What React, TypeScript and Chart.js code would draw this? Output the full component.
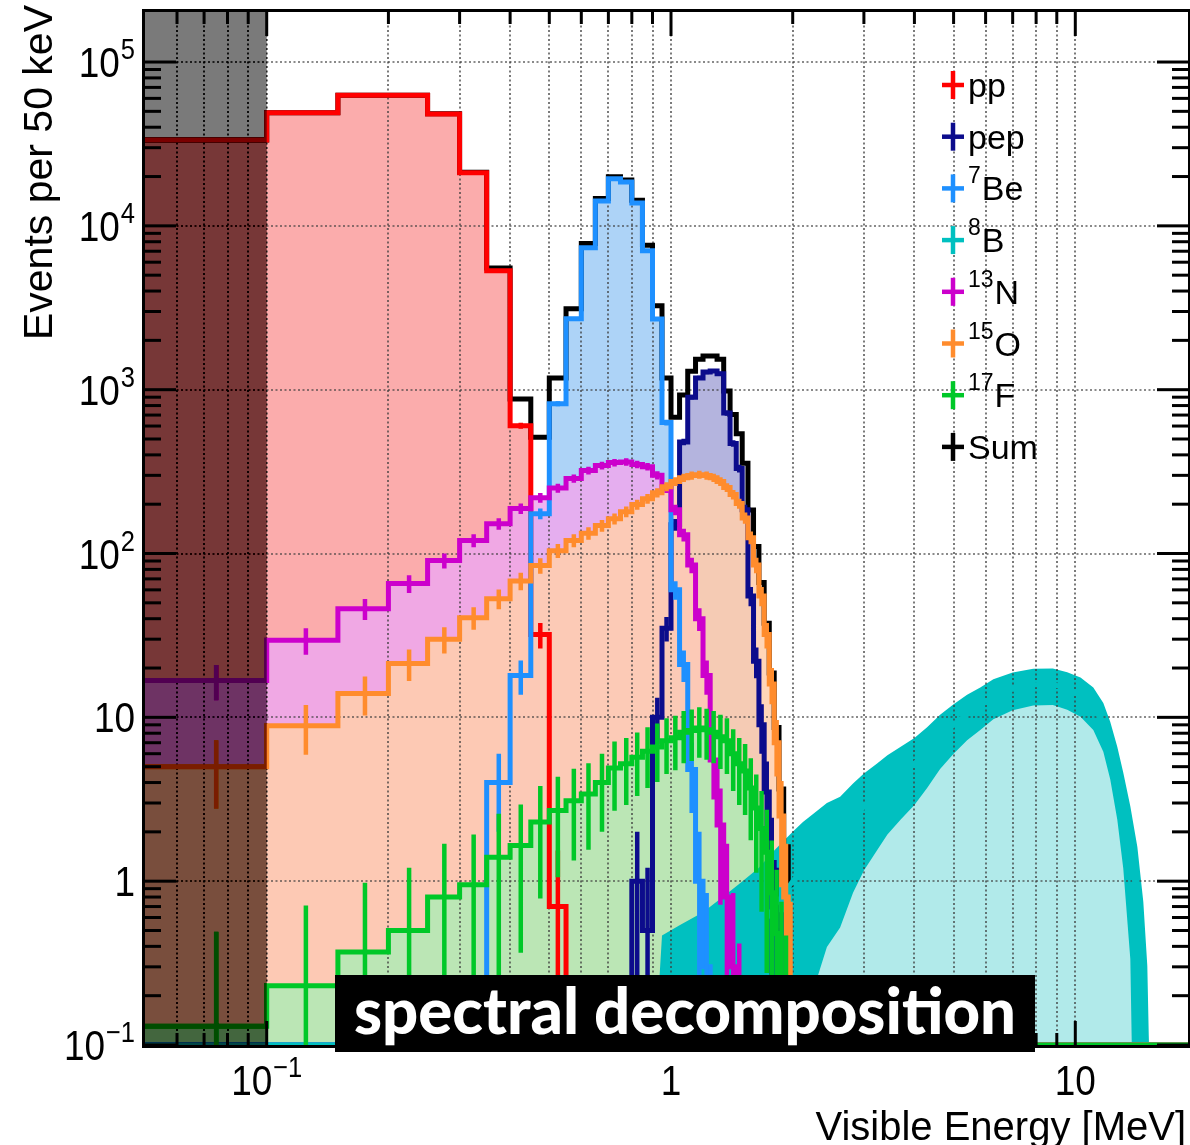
import React, { useEffect, useRef } from "react";
import { Chart, registerables } from "chart.js";

Chart.register(...registerables);

// ---------------- axis ranges ----------------
const BIN_WIDTH = 0.05; // MeV (50 keV bins)
const E_MIN = 0.05;
const E_MAX = 19;
const Y_MIN = 0.1;
const Y_MAX = 2.02e5;

// ---------------- data: events per 50 keV, bin i = [0.05+0.05i, 0.10+0.05i] MeV ----------------
const ppCounts = [33400, 49000, 62700, 62700, 48200, 21100, 5320, 603, 32, 0.7];
const pepCounts = [
  0, 0, 0, 0, 0, 0, 0, 0, 0, 0, 0, 0, 0, 0, 0,
  1.0, 0.5, 10, 35, 150, 480, 900, 1180, 1280, 1300, 1250, 720, 470, 330, 185,
  55, 22, 9, 3.5, 1.3, 0.5, 0.2,
];
const be7Counts = [
  0, 0, 0, 0, 0, 0, 4, 18, 175, 822, 2710, 7340, 14200, 19400, 18500, 13800,
  7040, 2700, 630, 60, 21, 4.8, 1.0, 0.3,
];
const n13Counts = [
  16.8, 29.5, 46, 65.6, 90.6, 120, 152, 188, 219, 251, 287, 321, 344, 359, 362,
  350, 339, 300, 250, 185, 130, 85, 40, 18, 5.5, 2.2, 0.8, 0.3, 0.1,
];
const o15Counts = [
  5.0, 8.9, 14, 21.3, 30, 40.6, 53, 68, 84.5, 104, 120, 133, 148, 163, 180, 199,
  216, 235, 256, 275, 290, 299, 303, 299, 290, 275, 253, 229, 202, 165, 125, 85,
  55, 32, 16, 7, 2.5, 0.8, 0.25,
];
const f17Counts = [
  0.13, 0.23, 0.37, 0.5, 0.8, 0.95, 1.4, 1.65, 2.3, 2.7, 3.1, 3.4, 4.0, 4.9, 5.2,
  5.7, 6.2, 6.6, 7.2, 7.5, 8.1, 8.3, 8.6, 8.4, 8.1, 7.6, 7.2, 6.0, 5.2, 4.7, 3.7,
  2.8, 2.1, 1.5, 0.85, 0.48, 0.25, 0.12,
];
// 8B: sampled spectrum (energy in MeV, events per 50 keV)
const b8Energy = [
  0.05, 0.9, 0.95, 1.05, 1.2, 1.35, 1.5, 1.65, 1.8, 2.0, 2.12, 2.25, 2.43, 2.62,
  2.82, 3.0, 3.24, 3.43, 3.7, 4.0, 4.3, 4.63, 5.0, 5.4, 5.82, 6.27, 7.0, 7.87,
  8.8, 9.55, 10.3, 11.08, 11.73, 12.2, 12.7, 13.14, 13.68, 14.24, 14.73, 15.07,
  15.3, 19,
];
const b8Counts = [
  0, 0, 0.12, 0.15, 0.2, 0.28, 0.38, 0.5, 0.7, 1.0, 1.2, 1.4, 1.7, 1.9, 2.4,
  2.85, 3.4, 3.9, 4.5, 5.2, 6.2, 7.6, 9.0, 10.5, 11.8, 13.4, 14.9, 15.8, 15.9,
  15.0, 13.8, 11.8, 9.2, 6.8, 4.5, 2.9, 1.6, 0.75, 0.25, 0.06, 0, 0,
];
// shaded first bin (below threshold), MeV
const shadedRange = [0.05, 0.1];
const SUM_LAST_BIN = 38; // Sum drawn as histogram up to 2.0 MeV (8B dominated beyond)

// ---------------- ticks / labels ----------------
const xMajorTicks = [0.1, 1, 10];
const xTickLabels: [string, string][] = [["10", "\u22121"], ["1", ""], ["10", ""]];
const yMajorTicks = [0.1, 1, 10, 100, 1000, 10000, 100000];
const yTickLabels: [string, string][] = [
  ["10", "\u22121"], ["1", ""], ["10", ""], ["10", "2"], ["10", "3"], ["10", "4"], ["10", "5"],
];
const legendLabels: { key: string; sup: string; text: string }[] = [
  { key: "pp", sup: "", text: "pp" },
  { key: "pep", sup: "", text: "pep" },
  { key: "be7", sup: "7", text: "Be" },
  { key: "b8", sup: "8", text: "B" },
  { key: "n13", sup: "13", text: "N" },
  { key: "o15", sup: "15", text: "O" },
  { key: "f17", sup: "17", text: "F" },
  { key: "sum", sup: "", text: "Sum" },
];

// ---------------- styles ----------------
const COLORS: Record<string, string> = {
  pp: "#ff0000",
  pep: "#0c0c8c",
  be7: "#1e90ff",
  b8: "#00c0c0",
  n13: "#cc00cc",
  o15: "#ff8c2d",
  f17: "#00c828",
  sum: "#000000",
};
const FILLS: Record<string, string> = {
  pp: "rgba(250,158,158,0.86)",
  pep: "rgba(168,168,216,0.86)",
  be7: "rgba(160,204,246,0.86)",
  b8: "rgba(168,232,232,0.9)",
  n13: "rgba(238,168,238,0.86)",
  o15: "rgba(255,206,172,0.86)",
  f17: "rgba(176,234,180,0.86)",
};
const LABEL_FONT = '"Liberation Sans", Arial, Helvetica, sans-serif';

function edge(i: number) {
  return Math.round((E_MIN + i * BIN_WIDTH) * 1000) / 1000;
}
const N_BINS = Math.round((E_MAX - E_MIN) / BIN_WIDTH);

function stepPoints(counts: number[], nBins = N_BINS, endX = E_MAX) {
  const pts: { x: number; y: number }[] = [];
  let last = Y_MIN;
  for (let i = 0; i < nBins; i++) {
    const v = counts[i] ?? 0;
    last = v > 0 ? v : Y_MIN;
    pts.push({ x: edge(i), y: last });
  }
  pts.push({ x: endX, y: last });
  return pts;
}

function errorPoints(counts: number[]) {
  const pts: { x: number; y: number | null }[] = [];
  counts.forEach((v, i) => {
    if (!(v > 0)) return;
    const c = edge(i) + BIN_WIDTH / 2;
    const e = Math.sqrt(v);
    pts.push({ x: c, y: Math.max(v - e, Y_MIN * 0.01) }, { x: c, y: v + e }, { x: c, y: null });
  });
  return pts;
}

function b8At(e: number) {
  let v = 0;
  for (let k = 0; k < b8Energy.length; k++) if (b8Energy[k] <= e) v = b8Counts[k];
  return v;
}

function drawPow(
  ctx: CanvasRenderingContext2D, base: string, exp: string, x: number, y: number,
  align: "left" | "right" | "center", mainPx: number, supPx: number, sx: number, supDy: number
) {
  ctx.save();
  ctx.textAlign = "left";
  ctx.textBaseline = "alphabetic";
  ctx.font = `${mainPx}px ${LABEL_FONT}`;
  const w1 = ctx.measureText(base).width;
  ctx.font = `${supPx}px ${LABEL_FONT}`;
  const w2 = exp ? ctx.measureText(exp).width + 1 : 0;
  const total = (w1 + w2) * sx;
  const start = align === "right" ? x - total : align === "center" ? x - total / 2 : x;
  ctx.translate(start, y);
  ctx.scale(sx, 1);
  ctx.font = `${mainPx}px ${LABEL_FONT}`;
  ctx.fillText(base, 0, 0);
  if (exp) {
    ctx.font = `${supPx}px ${LABEL_FONT}`;
    ctx.fillText(exp, w1 + 1, -supDy);
  }
  ctx.restore();
}

const rootStylePlugin = {
  id: "rootStyle",
  beforeDraw(chart: any) {
    const { ctx, width, height } = chart;
    ctx.save();
    ctx.fillStyle = "#ffffff";
    ctx.fillRect(0, 0, width, height);
    ctx.restore();
  },
  beforeDatasetsDraw(chart: any) {
    const { ctx, chartArea: a, scales } = chart;
    const x = scales.x, y = scales.y;
    ctx.save();
    ctx.beginPath();
    ctx.rect(a.left, a.top, a.right - a.left, a.bottom - a.top);
    ctx.clip();
    ctx.strokeStyle = "rgba(60,60,60,0.8)";
    ctx.lineWidth = 1.7;
    ctx.setLineDash([2, 2.5]);
    const xs: number[] = [];
    for (let n = -2; n <= 1; n++)
      for (let k = 1; k <= 9; k++) {
        const v = k * Math.pow(10, n);
        if (v > E_MIN * 1.001 && v < E_MAX) xs.push(v);
      }
    xs.forEach((v) => {
      const px = Math.round(x.getPixelForValue(v));
      ctx.beginPath();
      ctx.moveTo(px, a.top);
      ctx.lineTo(px, a.bottom);
      ctx.stroke();
    });
    yMajorTicks.forEach((v) => {
      const py = Math.round(y.getPixelForValue(v));
      ctx.beginPath();
      ctx.moveTo(a.left, py);
      ctx.lineTo(a.right, py);
      ctx.stroke();
    });
    ctx.restore();
  },
  afterDatasetsDraw(chart: any) {
    const { ctx, chartArea: a, scales } = chart;
    const x = scales.x, y = scales.y;
    ctx.save();
    // ---- shaded first bin (burn + multiply darkening) ----
    const sx0 = x.getPixelForValue(shadedRange[0]);
    const sx1 = x.getPixelForValue(shadedRange[1]);
    ctx.save();
    ctx.globalCompositeOperation = "color-burn";
    ctx.fillStyle = "rgb(150,150,150)";
    ctx.fillRect(sx0, a.top, sx1 - sx0, a.bottom - a.top);
    ctx.globalCompositeOperation = "multiply";
    ctx.fillStyle = "rgb(122,122,122)";
    ctx.fillRect(sx0, a.top, sx1 - sx0, a.bottom - a.top);
    ctx.restore();

    // ---- ticks ----
    ctx.strokeStyle = "#000";
    ctx.lineWidth = 3;
    ctx.setLineDash([]);
    const line = (x1: number, y1: number, x2: number, y2: number) => {
      ctx.beginPath();
      ctx.moveTo(x1, y1);
      ctx.lineTo(x2, y2);
      ctx.stroke();
    };
    for (let n = -1; n <= 5; n++)
      for (let k = 1; k <= 9; k++) {
        const v = k * Math.pow(10, n);
        if (v >= Y_MAX * 0.97) continue;
        const py = y.getPixelForValue(v);
        const len = k === 1 ? 31 : 16;
        line(a.left, py, a.left + len, py);
        line(a.right, py, a.right - len, py);
      }
    for (let n = -2; n <= 1; n++)
      for (let k = 1; k <= 9; k++) {
        const v = k * Math.pow(10, n);
        if (v <= E_MIN * 1.001 || v >= E_MAX) continue;
        const px = x.getPixelForValue(v);
        const len = k === 1 ? 24 : 12;
        line(px, a.top, px, a.top + len);
        line(px, a.bottom, px, a.bottom - len);
      }
    // ---- frame ----
    ctx.lineWidth = 3;
    ctx.strokeRect(a.left - 1.5, a.top - 1.5, a.right - a.left + 3, a.bottom - a.top + 3);

    // ---- legend ----
    legendLabels.forEach((e, i) => {
      const cy = 85 + i * 51.7;
      const cx = 953;
      ctx.strokeStyle = COLORS[e.key];
      ctx.lineWidth = 4.5;
      line(cx - 11, cy, cx + 11, cy);
      line(cx, cy - 14, cx, cy + 14);
      ctx.fillStyle = "#000";
      ctx.textAlign = "left";
      ctx.textBaseline = "alphabetic";
      let tx = 968;
      if (e.sup) {
        ctx.font = `23px ${LABEL_FONT}`;
        ctx.fillText(e.sup, tx, cy - 5);
        tx += ctx.measureText(e.sup).width + 1;
      }
      ctx.font = `34px ${LABEL_FONT}`;
      ctx.fillText(e.text, tx, cy + 12);
    });

    // ---- tick labels ----
    ctx.fillStyle = "#000";
    yMajorTicks.forEach((v, i) => {
      const py = y.getPixelForValue(v);
      const [b, s] = yTickLabels[i];
      drawPow(ctx, b, s, 135, py + 15, "right", 42, 29, 0.88, 18);
    });
    xMajorTicks.forEach((v, i) => {
      const px = x.getPixelForValue(v);
      const [b, s] = xTickLabels[i];
      drawPow(ctx, b, s, px, 1095, "center", 42, 29, 0.88, 18);
    });

    // ---- axis titles ----
    ctx.font = `41px ${LABEL_FONT}`;
    ctx.save();
    ctx.translate(52, 5);
    ctx.rotate(-Math.PI / 2);
    ctx.textAlign = "right";
    ctx.textBaseline = "alphabetic";
    ctx.fillText("Events per 50 keV", 0, 0, 336);
    ctx.restore();
    ctx.font = `40px ${LABEL_FONT}`;
    ctx.textAlign = "right";
    ctx.fillText("Visible Energy [MeV]", 1186, 1140, 374);

    // ---- annotation box ----
    ctx.fillStyle = "#000";
    ctx.fillRect(335, 975, 700, 77);
    ctx.fillStyle = "#fff";
    ctx.textAlign = "left";
    ctx.font = '900 64px Lato, "Open Sans", sans-serif';
    ctx.fillText("spectral decomposition", 354, 1034, 662);
    ctx.restore();
  },
};

export default function App() {
  const ref = useRef<HTMLCanvasElement>(null);
  useEffect(() => {
    const canvas = ref.current;
    if (!canvas) return;

    const common = {
      pointRadius: 0,
      pointHoverRadius: 0,
      tension: 0,
      borderCapStyle: "butt",
      borderJoinStyle: "miter",
      spanGaps: false,
    };
    const hist = (k: string, counts: number[], order: number) => ({
      ...common,
      label: k,
      data: stepPoints(counts),
      stepped: "before",
      borderColor: COLORS[k],
      borderWidth: 5,
      backgroundColor: FILLS[k],
      fill: "start",
      order,
    });
    const errs = (k: string, counts: number[], order: number) => ({
      ...common,
      label: k + " errors",
      data: errorPoints(counts),
      borderColor: COLORS[k],
      borderWidth: 4.5,
      fill: false,
      order,
    });

    // Sum of components (histogram part up to 2 MeV)
    const sumCounts: number[] = [];
    for (let i = 0; i <= SUM_LAST_BIN; i++) {
      const c = edge(i) + BIN_WIDTH / 2;
      sumCounts.push(
        (ppCounts[i] ?? 0) + (pepCounts[i] ?? 0) + (be7Counts[i] ?? 0) + (n13Counts[i] ?? 0) +
          (o15Counts[i] ?? 0) + (f17Counts[i] ?? 0) + b8At(c)
      );
    }

    const b8Upper = b8Energy.map((e, i) => {
      const v = b8Counts[i];
      return { x: e, y: v > 0 ? v + Math.sqrt(v) : Y_MIN * 0.5 };
    });
    const b8Lower = b8Energy.map((e, i) => {
      const v = b8Counts[i];
      return { x: e, y: v > 0 ? Math.max(v - Math.sqrt(v), Y_MIN * 0.01) : Y_MIN * 0.5 };
    });
    const b8Central = b8Energy.map((e, i) => ({ x: e, y: b8Counts[i] > 0 ? b8Counts[i] : Y_MIN }));

    const datasets: any[] = [
      {
        ...common,
        label: "b8 band",
        data: b8Upper,
        borderColor: "rgba(0,0,0,0)",
        borderWidth: 0,
        backgroundColor: COLORS.b8,
        fill: "+1",
        order: 1,
      },
      {
        ...common,
        label: "b8 band low",
        data: b8Lower,
        borderColor: "rgba(0,0,0,0)",
        borderWidth: 0,
        fill: false,
        order: 1.1,
      },
      errs("f17", f17Counts, 1.9),
      hist("f17", f17Counts, 2),
      errs("o15", o15Counts, 3),
      hist("o15", o15Counts, 4),
      errs("n13", n13Counts, 5),
      hist("n13", n13Counts, 6),
      {
        ...common,
        label: "b8",
        data: b8Central,
        borderColor: COLORS.b8,
        borderWidth: 5,
        backgroundColor: FILLS.b8,
        fill: "start",
        order: 9,
      },
      errs("be7", be7Counts, 10),
      hist("be7", be7Counts, 11),
      errs("pep", pepCounts, 12),
      hist("pep", pepCounts, 13),
      errs("pp", ppCounts, 14),
      hist("pp", ppCounts, 15),
      {
        ...common,
        label: "sum",
        data: stepPoints(sumCounts, SUM_LAST_BIN + 1, edge(SUM_LAST_BIN + 1)),
        stepped: "before",
        borderColor: COLORS.sum,
        borderWidth: 5,
        fill: false,
        order: 16,
      },
    ];

    const chart = new Chart(canvas, {
      type: "line",
      data: { datasets },
      options: {
        animation: false,
        responsive: false,
        devicePixelRatio: 1,
        events: [],
        layout: { padding: { left: 145, top: 12, right: 2, bottom: 100 } },
        plugins: {
          legend: { display: false },
          tooltip: { enabled: false },
          filler: { drawTime: "beforeDatasetsDraw" },
        },
        scales: {
          x: { type: "logarithmic", min: E_MIN, max: E_MAX, display: false },
          y: { type: "logarithmic", min: Y_MIN, max: Y_MAX, display: false },
        },
      } as any,
      plugins: [rootStylePlugin as any],
    });
    return () => chart.destroy();
  }, []);

  return (
    <div style={{ position: "absolute", left: 0, top: 0, width: 1190, height: 1145, background: "#fff" }}>
      <canvas ref={ref} width={1190} height={1145} style={{ display: "block", width: 1190, height: 1145 }} />
    </div>
  );
}
